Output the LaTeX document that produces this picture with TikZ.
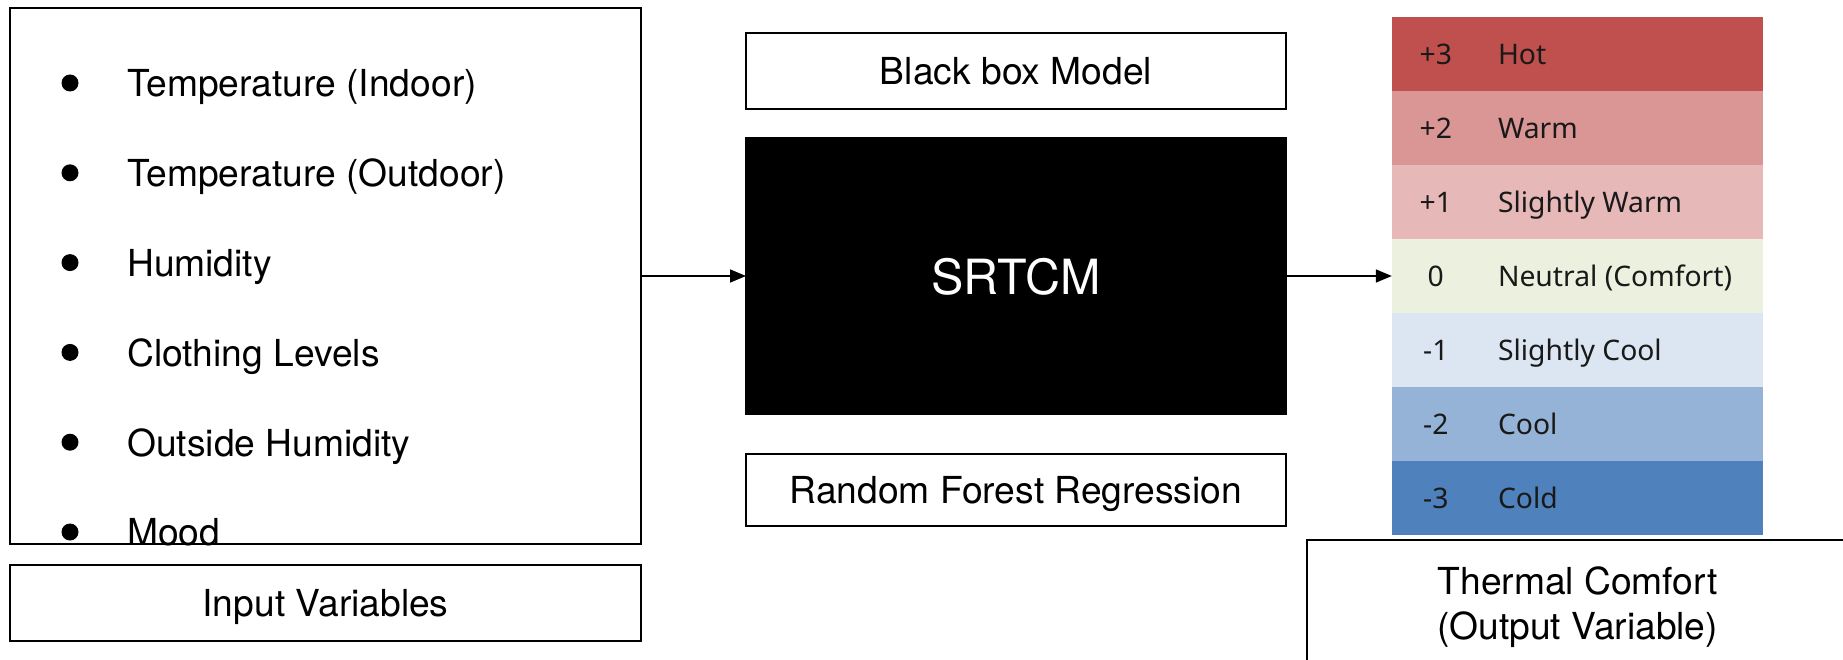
\documentclass[tikz,border=0pt]{standalone}
\usepackage{fontspec}
\setmainfont{TeX Gyre Heros}
\newfontfamily\segoe{Noto Sans}
\usetikzlibrary{arrows.meta,positioning}
\tikzset{arrows={-{Triangle[length=16pt,width=13pt]}}}
\definecolor{hot}{RGB}{192,80,77}
\definecolor{warm}{RGB}{217,150,148}
\definecolor{slwarm}{RGB}{230,185,184}
\definecolor{neutral}{RGB}{235,241,222}
\definecolor{slcool}{RGB}{220,230,242}
\definecolor{cool}{RGB}{149,179,215}
\definecolor{cold}{RGB}{79,129,189}

\begin{document}
\begin{tikzpicture}[x=1pt, y=-1pt, node distance=20pt, auto,
  box/.style={draw, line width=2pt, outer sep=0pt, inner sep=0pt, minimum width=540pt,
    text depth=0pt, font=\fontsize{37.2}{45}\selectfont},
  row/.style={minimum width=371pt, minimum height=74pt, inner sep=0pt},
  tag/.style={inner sep=0pt, text depth=0pt, text=black!90, font=\segoe\fontsize{28.3}{34}\selectfont},
  flow/.style={line width=1.6pt}]
  \useasboundingbox (0,0) rectangle (1843,660);
  \clip (0,0) rectangle (1843,660);

  \node[box, minimum width=631pt, minimum height=536pt] (inputs) at (325.5,276) {};
  \node[box, minimum width=631pt, minimum height=76pt] (invars) [below = 21pt of inputs] {Input Variables};
  \foreach \txt [count=\i] in {Temperature (Indoor), Temperature (Outdoor), Humidity,
      Clothing Levels, Outside Humidity, Mood} {
    \node[circle, fill, inner sep=0pt, minimum size=17pt] (dot\i) at (70, 83+89.8*\i-89.8) {};
    \node[anchor=west, inner sep=0pt, text depth=0pt, font=\fontsize{37.2}{45}\selectfont]
      (item\i) at (127, 83+89.8*\i-89.8) {\txt};
  }

  \node[box, fill=black, text=white, minimum height=276pt, font=\fontsize{48.5}{58}\selectfont]
    (srtcm) [right = 105pt of inputs] {SRTCM};
  \node[box, minimum height=76pt] (model) [above = 29pt of srtcm] {Black box Model};
  \node[box, minimum height=72pt] (forest) [below = 40pt of srtcm] {Random Forest Regression};

  \foreach \v/\lab/\col [count=\k] in {+3/Hot/hot, +2/Warm/warm, +1/Slightly Warm/slwarm,
      0/Neutral (Comfort)/neutral, -1/Slightly Cool/slcool, -2/Cool/cool, -3/Cold/cold} {
    \node[row, fill=\col] (row\k) at (1577.5, 54+74*\k-74) {};
    \node[tag] (num\k) at ([xshift=44pt]row\k.west) {\v};
    \node[tag, anchor=west] (lab\k) at ([xshift=106pt]row\k.west) {\lab};
  }
  \node[box, minimum width=542pt, minimum height=125pt, align=center]
    (thermal) [below = 5pt of row7] {Thermal Comfort\\(Output Variable)};

  \path[flow] (inputs) edge (srtcm)
              (srtcm) edge (row4);
\end{tikzpicture}
\end{document}
